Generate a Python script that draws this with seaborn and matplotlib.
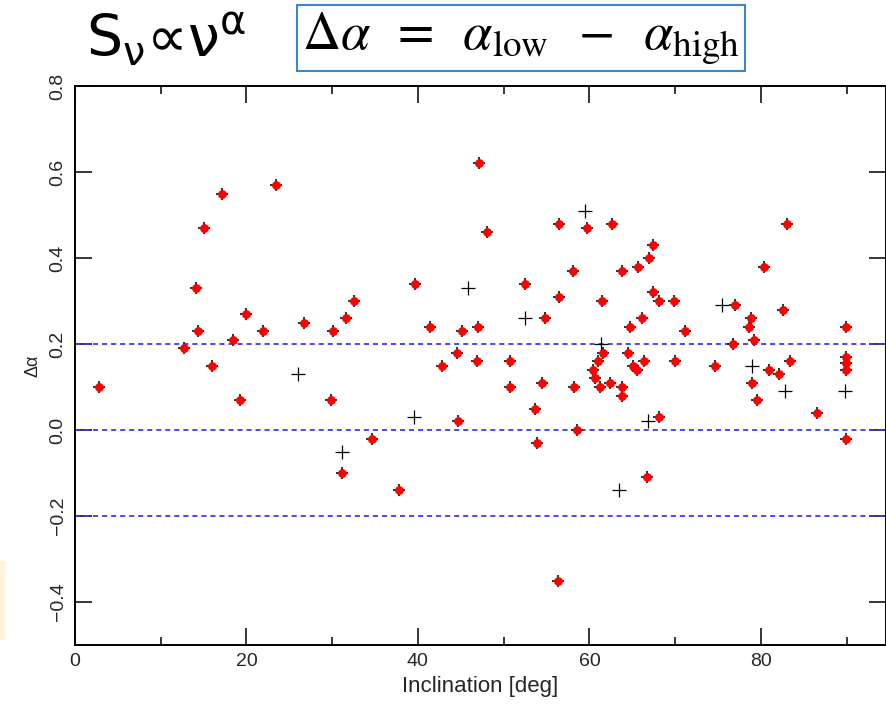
"""
Spectral index difference vs inclination — scatter with guide lines.
"""

import matplotlib
matplotlib.use("Agg")
import matplotlib.pyplot as plt
import seaborn as sns
import pandas as pd
from matplotlib.patches import Rectangle
from matplotlib.ticker import MultipleLocator

# ── Data ──────────────────────────────────────────────────────────────────────

# sources with both markers (red dot over black cross)
red_incl = [
    2.8, 12.75, 14.07, 14.4, 15.0, 15.95, 17.2, 18.4, 19.24, 19.9,
    21.9, 23.4, 26.7, 29.85, 30.1, 31.2, 31.6, 32.5, 34.6, 37.8,
    39.7, 41.4, 42.8, 44.6, 44.7, 45.1, 46.9, 47.0, 47.1, 48.1,
    50.7, 50.7, 52.5, 53.7, 53.9, 54.5, 54.8, 56.3, 56.4, 56.5,
    58.1, 58.2, 58.6, 59.7, 60.4, 60.6, 61.0, 61.2, 61.5, 61.6,
    62.4, 62.6, 63.75, 63.75, 63.75, 64.5, 64.7, 65.1, 65.6, 65.7,
    66.1, 66.4, 66.7, 67.0, 67.4, 67.4, 68.1, 68.1, 69.9, 70.0,
    71.1, 74.7, 76.8, 77.0, 78.6, 78.8, 79.0, 79.2, 79.5, 80.35,
    80.9, 82.1, 82.6, 83.1, 83.4, 86.5, 89.9, 89.9, 89.9, 89.9,
    89.9,
]
red_dalpha = [
    0.10, 0.19, 0.33, 0.23, 0.47, 0.15, 0.55, 0.21, 0.07, 0.27,
    0.23, 0.57, 0.25, 0.07, 0.23, -0.10, 0.26, 0.30, -0.02, -0.14,
    0.34, 0.24, 0.15, 0.18, 0.02, 0.23, 0.16, 0.24, 0.62, 0.46,
    0.16, 0.10, 0.34, 0.05, -0.03, 0.11, 0.26, -0.35, 0.48, 0.31,
    0.37, 0.10, 0.00, 0.47, 0.14, 0.12, 0.16, 0.10, 0.30, 0.18,
    0.11, 0.48, 0.37, 0.10, 0.08, 0.18, 0.24, 0.15, 0.14, 0.38,
    0.26, 0.16, -0.11, 0.40, 0.43, 0.32, 0.30, 0.03, 0.30, 0.16,
    0.23, 0.15, 0.20, 0.29, 0.24, 0.26, 0.11, 0.21, 0.07, 0.38,
    0.14, 0.13, 0.28, 0.48, 0.16, 0.04, 0.24, 0.17, 0.155, 0.14,
    -0.02,
]

# sources with the black cross only
cross_incl = [26.0, 31.1, 39.5, 45.9, 52.5, 59.5, 61.3, 63.4, 66.8, 75.5,
              79.0, 82.8, 89.8]
cross_dalpha = [0.13, -0.05, 0.03, 0.33, 0.26, 0.51, 0.20, -0.14, 0.02, 0.29,
                0.15, 0.09, 0.09]

guide_levels = [0.2, 0.0, -0.2]

x_ticks = [0, 20, 40, 60, 80]
y_ticks = [-0.4, -0.2, 0.0, 0.2, 0.4, 0.6, 0.8]

# ── Figure ───────────────────────────────────────────────────────────────────

sns.set_style("ticks")
plt.rcParams["font.family"] = ["Liberation Sans", "DejaVu Sans"]

W, H = 887, 708
fig = plt.figure(figsize=(W / 100, H / 100), dpi=100)
ax = fig.add_axes([75 / W, 1 - 645 / H, 811 / W, 559 / H])

red_df = pd.DataFrame({"incl": red_incl, "dalpha": red_dalpha})
cross_df = pd.DataFrame({"incl": cross_incl, "dalpha": cross_dalpha})

for lvl in guide_levels:
    ax.axhline(lvl, color="#3a3af0", lw=1.3, ls=(0, (2.8, 2.2)), zorder=1)

sns.scatterplot(data=cross_df, x="incl", y="dalpha", marker="+", s=110,
                color="black", linewidth=0.9, ax=ax, zorder=3)
sns.scatterplot(data=red_df, x="incl", y="dalpha", marker="+", s=85,
                color="#222222", linewidth=1.3, ax=ax, zorder=3)
sns.scatterplot(data=red_df, x="incl", y="dalpha", marker="o", s=40,
                color="red", linewidth=0, ax=ax, zorder=4)

ax.set_xlim(0, 94.6)
ax.set_ylim(-0.5, 0.8)
ax.set_xticks(x_ticks)
ax.xaxis.set_minor_locator(MultipleLocator(10))
ax.set_yticks(y_ticks)
ax.set_yticklabels([f"{v:.1f}".replace("-", "\u2212") for v in y_ticks],
                   rotation=90, va="center")
ax.tick_params(which="both", direction="in", top=True, right=True,
               labelsize=14, width=1.1, color="black")
ax.tick_params(which="major", length=12, pad=6)
ax.tick_params(which="minor", length=6)
for sp in ax.spines.values():
    sp.set_linewidth(1.4)
    sp.set_color("black")

ax.set_xlabel("Inclination [deg]", fontsize=16, labelpad=4)
ax.set_ylabel("\u0394\u03b1", fontsize=13, labelpad=6)

# ── Header formulas ───────────────────────────────────────────────────────────

fig.text(86 / W, 1 - 40 / H, r"$\mathregular{S_{ν}∝ν^{α}}$",
         family="DejaVu Sans", fontsize=41, va="center", ha="left",
         color="black")
fig.text(521 / W, 1 - 38 / H,
         r"$\Delta\alpha\;\;=\;\;\alpha_{\rm low}\;\;-\;\;\alpha_{\rm high}$",
         math_fontfamily="stix", fontsize=38, va="center", ha="center",
         color="black",
         bbox=dict(boxstyle="square,pad=0.1", fc="white", ec="#3f86c8",
                   lw=1.5))

# pale strip at the left edge
fig.patches.append(Rectangle((0, 1 - 639 / H), 4 / W, 78 / H,
                             transform=fig.transFigure, color="#fff3d9",
                             zorder=0))

fig.savefig("out.png", dpi=100)
